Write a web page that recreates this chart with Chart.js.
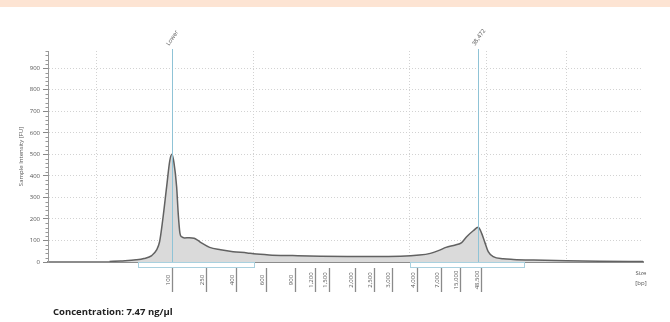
<!DOCTYPE html>
<html>
<head>
<meta charset="utf-8">
<script src="https://cdn.jsdelivr.net/npm/chart.js@4.4.1/dist/chart.umd.min.js"></script>
<style>
  html, body { margin: 0; padding: 0; background: #fff; }
  #wrap { position: relative; width: 670px; height: 322px; overflow: hidden; }
  #band { position: absolute; left: 0; top: 0; width: 670px; height: 7px; background: #fde4d3; }
  #conc { position: absolute; left: 53px; top: 305px; font: bold 9.5px "Open Sans", "Liberation Sans", sans-serif; color: #222; }
  canvas { position: absolute; left: 0; top: 0; }
</style>
</head>
<body>
<div id="wrap">
  <canvas id="myChart" width="670" height="322"></canvas>
  <div id="band"></div>
  <div id="conc">Concentration: 7.47 ng/µl</div>
</div>
<script>
// electropherogram trace: migration time (s) vs intensity (FU)
const migrationTime = [20.8, 21.5, 22.5, 23.0, 23.5, 23.8, 24.0, 24.2, 24.45, 24.65, 24.79, 24.92, 25.09, 25.19, 25.3, 25.41,
  25.6, 25.9, 26.2, 26.45, 26.7, 27.2, 27.9, 28.7, 29.6, 30.0, 31.0, 32.5, 34.3, 36.0, 37.5, 39.4,
  40.6, 41.3, 41.9, 42.3, 42.9, 43.3, 43.62, 44.04, 44.36, 44.58, 44.79, 45.0, 45.32, 45.96, 46.6, 47.9, 50.0, 52.1, 54.9];
const intensity = [2, 5, 10, 16, 30, 55, 94, 195, 349, 470, 500, 460, 349, 226, 134, 117,
  112, 113, 110, 100, 88, 68, 57, 48, 42, 38, 33, 30, 27, 26, 26, 27,
  32, 40, 55, 68, 79, 90, 117, 145, 161, 133, 90, 48, 25, 15, 12, 9, 6, 4, 2];

// size ladder (bp) and where each runs
const ladderTimes = [24.79, 26.96, 28.91, 30.77, 32.65, 33.93, 34.82, 36.49, 37.70, 38.85, 40.45, 41.98, 43.19, 44.54];
const ladderLabels = ['100', '250', '400', '600', '900', '1,200', '1,500', '2,000', '2,500', '3,000', '4,000', '7,000', '15,000', '48,500'];

// peak markers
const markerTimes = [24.79, 44.35];
const markerLabels = ['Lower', '38,472'];

// smear regions
const regionStart = [22.62, 40.0];
const regionEnd = [30.03, 47.28];

const gridTimes = [20, 30, 40, 44.9, 50];
const yTickValues = [0, 100, 200, 300, 400, 500, 600, 700, 800, 900];

const FONT = '"Open Sans", "Liberation Sans", sans-serif';

const overlayPlugin = {
  id: 'overlay',
  afterDatasetsDraw(chart) {
    const {ctx, chartArea, scales: {x}} = chart;
    ctx.save();
    ctx.strokeStyle = '#8fc3d6';
    ctx.lineWidth = 1;
    ctx.fillStyle = '#555';
    ctx.font = '6px ' + FONT;
    markerTimes.forEach((t, i) => {
      const px = Math.round(x.getPixelForValue(t)) + 0.5;
      ctx.beginPath();
      ctx.moveTo(px, chartArea.top - 2);
      ctx.lineTo(px, chartArea.bottom);
      ctx.stroke();
      ctx.save();
      ctx.translate(px - 5, chartArea.top - 6);
      ctx.rotate(-55 * Math.PI / 180);
      ctx.textAlign = 'left';
      ctx.textBaseline = 'middle';
      ctx.fillText(markerLabels[i], 0, 0);
      ctx.restore();
    });
    ctx.restore();
  },
  afterDraw(chart) {
    const {ctx, chartArea, scales: {x, y}} = chart;
    ctx.save();
    // minor ticks on intensity axis
    ctx.strokeStyle = '#999';
    ctx.lineWidth = 1;
    for (let v = 20; v <= 980; v += 20) {
      if (v % 100 === 0) continue;
      const py = Math.round(y.getPixelForValue(v)) + 0.5;
      ctx.beginPath();
      ctx.moveTo(chartArea.left - 2.5, py);
      ctx.lineTo(chartArea.left, py);
      ctx.stroke();
    }
    // region brackets
    ctx.strokeStyle = '#a9d1df';
    regionStart.forEach((s, i) => {
      const x1 = Math.round(x.getPixelForValue(s)) + 0.5;
      const x2 = Math.round(x.getPixelForValue(regionEnd[i])) + 0.5;
      ctx.strokeRect(x1, chartArea.bottom + 0.5, x2 - x1, 5);
    });
    // ladder ticks + labels
    ctx.strokeStyle = '#8a8a8a';
    ctx.lineWidth = 1.3;
    ctx.fillStyle = '#555';
    ctx.font = '6px ' + FONT;
    ladderTimes.forEach((t, i) => {
      const px = Math.round(x.getPixelForValue(t)) + 0.5;
      ctx.beginPath();
      ctx.moveTo(px, chartArea.bottom + 6);
      ctx.lineTo(px, chartArea.bottom + 30);
      ctx.stroke();
      ctx.save();
      ctx.translate(px - 4, chartArea.bottom + 18);
      ctx.rotate(-Math.PI / 2);
      ctx.textAlign = 'center';
      ctx.textBaseline = 'middle';
      ctx.fillText(ladderLabels[i], 0, 0);
      ctx.restore();
    });
    // axis unit
    ctx.textAlign = 'center';
    ctx.textBaseline = 'middle';
    ctx.fillText('Size', chartArea.right - 2, chartArea.bottom + 11);
    ctx.fillText('[bp]', chartArea.right - 2, chartArea.bottom + 21);
    ctx.restore();
  }
};

const ctx = document.getElementById('myChart').getContext('2d');
const chart = new Chart(ctx, {
  type: 'line',
  data: {
    datasets: [{
      data: migrationTime.map((t, i) => ({x: t, y: intensity[i]})),
      borderColor: '#626262',
      borderWidth: 1.5,
      backgroundColor: '#dadada',
      fill: 'origin',
      pointRadius: 0,
      cubicInterpolationMode: 'monotone'
    }]
  },
  options: {
    responsive: false,
    animation: false,
    devicePixelRatio: 1,
    layout: {padding: {top: 51, right: 27, left: 0, bottom: 0}},
    plugins: {legend: {display: false}, tooltip: {enabled: false}},
    scales: {
      x: {
        type: 'linear',
        min: 16.87,
        max: 54.89,
        afterBuildTicks: s => { s.ticks = gridTimes.map(v => ({value: v})); },
        ticks: {display: false},
        grid: {color: '#d2d2d2', drawTicks: false},
        border: {color: '#8c8c8c', width: 2, dash: [1, 2]},
        afterFit: s => { s.height = 60; }
      },
      y: {
        min: 0,
        max: 980,
        afterBuildTicks: s => { s.ticks = yTickValues.map(v => ({value: v})); },
        ticks: {font: {size: 6, family: FONT}, color: '#555', padding: 3},
        grid: {color: '#d2d2d2', tickColor: '#888', tickLength: 5},
        border: {color: '#999', width: 1, dash: [1, 2]},
        title: {display: true, text: 'Sample Intensity [FU]', font: {size: 6, family: FONT}, color: '#555', padding: {top: 18, bottom: 0}},
        afterFit: s => { s.width = 48; }
      }
    }
  },
  plugins: [overlayPlugin]
});
</script>
</body>
</html>
